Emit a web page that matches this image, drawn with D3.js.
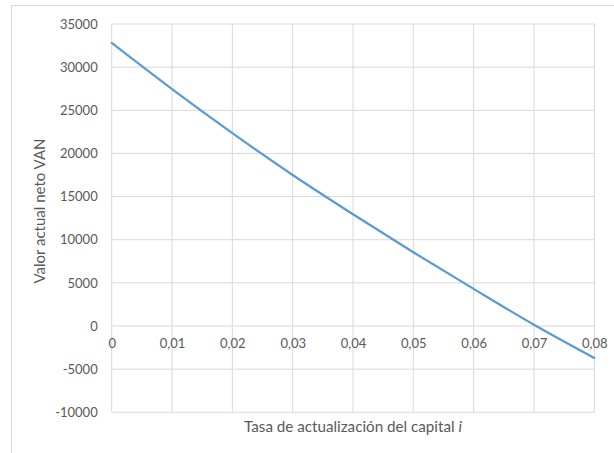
<!DOCTYPE html>
<html>
<head>
<meta charset="utf-8">
<script src="https://cdn.jsdelivr.net/npm/d3@7"></script>
<style>
  html, body { margin: 0; padding: 0; background: #fff; }
  svg { display: block; }
  text { font-family: Lato, "Open Sans", sans-serif; fill: #595959; }
</style>
</head>
<body>
<svg id="chart" width="614" height="453"></svg>
<script>
// Net present value (VAN) as a function of the discount rate i
const rates = [0, 0.01, 0.02, 0.03, 0.04, 0.05, 0.06, 0.07, 0.08];
const van = [32800, 27450, 22350, 17500, 12950, 8550, 4300, 150, -3700];

const xTicks = [0, 0.01, 0.02, 0.03, 0.04, 0.05, 0.06, 0.07, 0.08];
const yTicks = [-10000, -5000, 0, 5000, 10000, 15000, 20000, 25000, 30000, 35000];

const xTitle = "Tasa de actualización del capital ";
const xTitleItalic = "i";
const yTitle = "Valor actual neto VAN";

const svg = d3.select("#chart");
const W = 614, H = 453;
const plot = { left: 111.7, right: 594.3, top: 24, bottom: 412.3 };

// chart area frame
svg.append("rect")
  .attr("x", 11.5).attr("y", 5.5)
  .attr("width", W + 10).attr("height", H + 10)
  .attr("fill", "none").attr("stroke", "#d9d9d9").attr("stroke-width", 1);

const x = d3.scaleLinear().domain([0, 0.08]).range([plot.left, plot.right]);
const y = d3.scaleLinear().domain([-10000, 35000]).range([plot.bottom, plot.top]);

const fmtX = v => v === 0 ? "0" : d3.format(".2f")(v).replace(".", ",");

// gridlines
const grid = svg.append("g").attr("stroke", "#d9d9d9").attr("stroke-width", 1);
grid.selectAll("line.h").data(yTicks).join("line")
  .attr("class", "h")
  .attr("x1", plot.left).attr("x2", plot.right)
  .attr("y1", d => y(d)).attr("y2", d => y(d));
grid.selectAll("line.v").data(xTicks).join("line")
  .attr("class", "v")
  .attr("x1", d => x(d)).attr("x2", d => x(d))
  .attr("y1", plot.top).attr("y2", plot.bottom);

// y axis labels
const yAxis = svg.append("g")
  .attr("transform", `translate(${plot.left - 14},0)`)
  .call(d3.axisLeft(y).tickValues(yTicks).tickSize(0).tickPadding(0).tickFormat(d => String(d)));
yAxis.select(".domain").remove();
yAxis.selectAll("text").attr("font-size", 13).style("font-family", "Lato, sans-serif").attr("fill", "#595959");

// x axis labels sit along the zero line
const xAxis = svg.append("g")
  .attr("transform", `translate(0,${y(0)})`)
  .call(d3.axisBottom(x).tickValues(xTicks).tickSize(0).tickPadding(13).tickFormat(fmtX));
xAxis.select(".domain").remove();
xAxis.selectAll("text").attr("font-size", 13).style("font-family", "Lato, sans-serif").attr("fill", "#595959");

// VAN curve
const line = d3.line()
  .x((d, i) => x(rates[i]))
  .y(d => y(d))
  .curve(d3.curveMonotoneX);
svg.append("path")
  .datum(van)
  .attr("d", line)
  .attr("fill", "none")
  .attr("stroke", "#5b9bd5")
  .attr("stroke-width", 2.25)
  .attr("stroke-linecap", "round");

// axis titles
const xt = svg.append("text")
  .attr("x", (plot.left + plot.right) / 2)
  .attr("y", 432)
  .attr("text-anchor", "middle")
  .attr("font-size", 15.2);
xt.append("tspan").text(xTitle);
xt.append("tspan").attr("font-style", "italic").text(xTitleItalic);

svg.append("text")
  .attr("transform", `translate(45,211) rotate(-90)`)
  .attr("text-anchor", "middle")
  .attr("font-size", 15)
  .text(yTitle);
</script>
</body>
</html>
